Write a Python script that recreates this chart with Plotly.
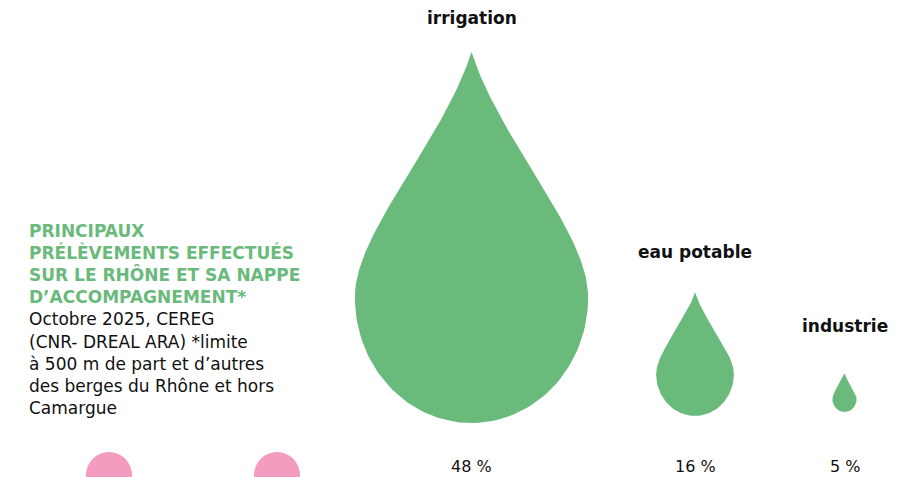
import numpy as np
import plotly.graph_objects as go

# ---- data ----
categories = ["irrigation", "eau potable", "industrie"]
shares = [48, 16, 5]                      # percent
share_labels = ["48 %", "16 %", "5 %"]

title_lines = ["PRINCIPAUX", "PRÉLÈVEMENTS EFFECTUÉS",
               "SUR LE RHÔNE ET SA NAPPE", "D’ACCOMPAGNEMENT*"]
source_lines = ["Octobre 2025, CEREG", "(CNR- DREAL ARA) *limite",
                "à 500 m de part et d’autres",
                "des berges du Rhône et hors", "Camargue"]

# ---- layout / style ----
W, H = 911, 477
GREEN = "#6aba7b"
PINK = "#f39cc0"
FONT = "DejaVu Sans"
PX_PER_PCT = 2.43                 # half-width of a drop per percent
centers_x = [471.5, 695, 844.5]
bottoms_y = [54, 61, 65]          # y-up pixel coordinates
label_y = [459, 225, 151]
pct_y = 11


def drop_outline(cx, by, r):
    """Teardrop: r = half width. Widest at 1.08 r above bottom, tip at 3.18 r."""
    wy = 1.08
    top = 3.18
    a = np.linspace(0, -np.pi, 80)
    ex = np.cos(a)
    ey = wy + wy * np.sin(a)
    t = np.linspace(0, 1, 80)
    P0, P1, P2, P3 = (1, wy), (1, 1.64), (0.25, 2.4), (0, top)
    bx = ((1 - t) ** 3 * P0[0] + 3 * (1 - t) ** 2 * t * P1[0]
          + 3 * (1 - t) * t ** 2 * P2[0] + t ** 3 * P3[0])
    byy = ((1 - t) ** 3 * P0[1] + 3 * (1 - t) ** 2 * t * P1[1]
           + 3 * (1 - t) * t ** 2 * P2[1] + t ** 3 * P3[1])
    xs = np.concatenate([bx[::-1], ex, -bx])
    ys = np.concatenate([byy[::-1], ey, byy])
    return cx + r * xs, by + r * ys


fig = go.Figure()
for cat, v, cx, by in zip(categories, shares, centers_x, bottoms_y):
    x, y = drop_outline(cx, by, v * PX_PER_PCT)
    fig.add_trace(go.Scatter(x=x, y=y, mode="lines", fill="toself",
                             fillcolor=GREEN, line=dict(width=0, color=GREEN),
                             hoverinfo="text", text=f"{cat}: {v} %",
                             showlegend=False))

for cat, lab, cx, ly in zip(categories, share_labels, centers_x, label_y):
    fig.add_annotation(x=cx, y=ly, text=f"<b>{cat}</b>", showarrow=False,
                       xanchor="center", yanchor="middle",
                       font=dict(family=FONT, size=17, color="#111111"))
    fig.add_annotation(x=cx, y=pct_y, text=lab, showarrow=False,
                       xanchor="center", yanchor="middle",
                       font=dict(family=FONT, size=16, color="#111111"))

block = "<br>".join(
    [f"<span style='color:{GREEN}'><b>{l}</b></span>" for l in title_lines]
    + source_lines)
fig.add_annotation(x=27, y=H - 219, text=block, showarrow=False,
                   xanchor="left", yanchor="top", align="left",
                   font=dict(family=FONT, size=17, color="#111111"))

for cx in [109, 277]:
    fig.add_shape(type="circle", x0=cx - 23, x1=cx + 23, y0=2 - 23, y1=2 + 23,
                  fillcolor=PINK, line=dict(width=0), layer="below")

fig.update_layout(
    width=W, height=H, margin=dict(l=0, r=0, t=0, b=0),
    paper_bgcolor="white", plot_bgcolor="white",
    xaxis=dict(range=[0, W], visible=False, fixedrange=True),
    yaxis=dict(range=[0, H], visible=False, fixedrange=True),
)
fig.write_html("out.html", config={"displayModeBar": False},
               post_script="document.body.style.margin='0';"
                           "document.body.style.overflow='hidden';")
